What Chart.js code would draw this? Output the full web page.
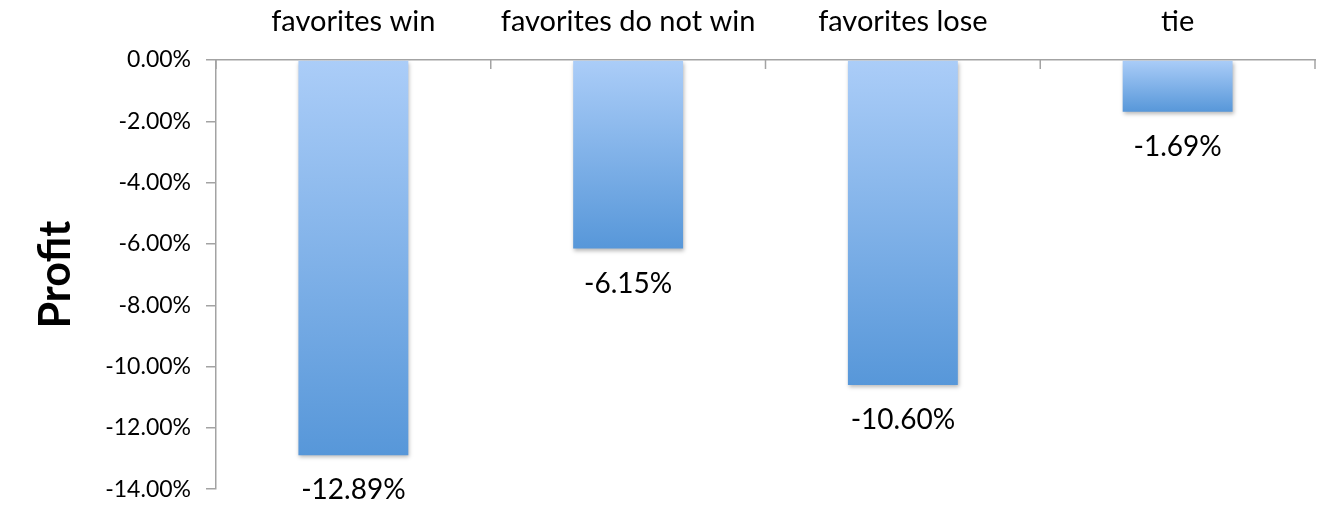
<!DOCTYPE html>
<html>
<head>
<meta charset="utf-8">
<script src="https://cdn.jsdelivr.net/npm/chart.js@4/dist/chart.umd.min.js"></script>
<style>
  html, body { margin: 0; padding: 0; background: #fff; }
  #wrap { width: 1332px; height: 518px; }
</style>
</head>
<body>
<div id="wrap"><canvas id="profitChart" width="1332" height="518"></canvas></div>
<script>
// chart data
var categories = ["favorites win", "favorites do not win", "favorites lose", "tie"];
var profitValues = [-12.89, -6.15, -10.60, -1.69];
var yTicks = [0, -2, -4, -6, -8, -10, -12, -14];

var FONT = "Lato, 'Open Sans', sans-serif";
var AXIS_GREY = "#a3a3a3";

// gradient for each bar, light at the top (0) going darker to the bar end
function barGradient(context) {
    var chart = context.chart;
    var area = chart.chartArea;
    if (!area) return "#7fb0ea";
    var yScale = chart.scales.y;
    var v = context.raw;
    var top = yScale.getPixelForValue(0);
    var bottom = yScale.getPixelForValue(v);
    if (!isFinite(top) || !isFinite(bottom) || bottom === top) return "#7fb0ea";
    var g = chart.ctx.createLinearGradient(0, top, 0, bottom);
    g.addColorStop(0, "#abcdf8");
    g.addColorStop(1, "#5797d9");
    return g;
}

// soft drop shadow under the bars
var shadowPlugin = {
    id: "barShadow",
    beforeDatasetsDraw: function (chart) {
        var ctx = chart.ctx;
        ctx.save();
        ctx.shadowColor = "rgba(0,0,0,0.28)";
        ctx.shadowBlur = 4;
        ctx.shadowOffsetX = 1;
        ctx.shadowOffsetY = 2;
    },
    afterDatasetsDraw: function (chart) {
        chart.ctx.restore();
    }
};

// value labels below each bar
var valueLabels = {
    id: "valueLabels",
    afterDatasetsDraw: function (chart) {
        var ctx = chart.ctx;
        var meta = chart.getDatasetMeta(0);
        ctx.save();
        ctx.font = "28px " + FONT;
        ctx.fillStyle = "#000";
        ctx.textAlign = "center";
        ctx.textBaseline = "middle";
        meta.data.forEach(function (bar, i) {
            ctx.fillText(profitValues[i].toFixed(2) + "%", bar.x, bar.y + 35);
        });
        ctx.restore();
    }
};

// category tick marks on the top axis, pointing down into the plot
var topTicks = {
    id: "topTicks",
    afterDraw: function (chart) {
        var ctx = chart.ctx;
        var x = chart.scales.x;
        var top = chart.chartArea.top;
        var step = x.getPixelForTick(1) - x.getPixelForTick(0);
        ctx.save();
        ctx.strokeStyle = AXIS_GREY;
        ctx.lineWidth = 1.5;
        for (var i = 0; i <= categories.length; i++) {
            var px = x.getPixelForTick(0) - step / 2 + i * step;
            ctx.beginPath();
            ctx.moveTo(px, top);
            ctx.lineTo(px, top + 9);
            ctx.stroke();
        }
        ctx.restore();
    }
};

new Chart(document.getElementById("profitChart").getContext("2d"), {
    type: "bar",
    data: {
        labels: categories,
        datasets: [{
            data: profitValues,
            backgroundColor: barGradient,
            borderWidth: 0,
            categoryPercentage: 1.0,
            barPercentage: 0.4
        }]
    },
    options: {
        responsive: false,
        animation: false,
        devicePixelRatio: 1,
        layout: { padding: { top: 0, right: 17, bottom: 23, left: 0 } },
        plugins: {
            legend: { display: false },
            tooltip: { enabled: false }
        },
        scales: {
            x: {
                position: "top",
                grid: { display: false, drawTicks: false },
                border: { display: true, color: AXIS_GREY, width: 1.5 },
                ticks: {
                    padding: 21,
                    color: "#000",
                    font: { family: FONT, size: 29 },
                    maxRotation: 0
                },
                afterFit: function (scale) { scale.height = 60; }
            },
            y: {
                min: -14,
                max: 0,
                afterBuildTicks: function (scale) {
                    scale.ticks = yTicks.map(function (v) { return { value: v }; });
                },
                grid: {
                    drawOnChartArea: false,
                    drawTicks: true,
                    tickLength: 10,
                    color: AXIS_GREY,
                    lineWidth: 1.5
                },
                border: { display: true, color: AXIS_GREY, width: 1.5 },
                ticks: {
                    padding: 15,
                    color: "#000",
                    font: { family: FONT, size: 23 },
                    callback: function (v) { return Number(v).toFixed(2) + "%"; }
                },
                title: {
                    display: true,
                    text: "Profit",
                    color: "#000",
                    font: { family: FONT, size: 43, weight: "bold" },
                    padding: { top: 30, bottom: 20 }
                },
                afterFit: function (scale) { scale.width = 216; }
            }
        }
    },
    plugins: [shadowPlugin, valueLabels, topTicks]
});
</script>
</body>
</html>
